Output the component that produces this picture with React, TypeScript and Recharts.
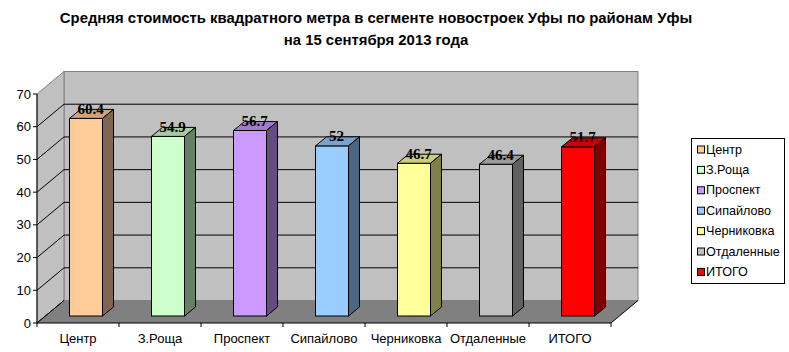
import React from "react";
import { BarChart, Bar, XAxis, YAxis } from "recharts";

// ==================== DATA ====================

const districts = [
  "Центр",
  "З.Роща",
  "Проспект",
  "Сипайлово",
  "Черниковка",
  "Отдаленные",
  "ИТОГО",
];
const pricePerMeter = [60.4, 54.9, 56.7, 52, 46.7, 46.4, 51.7];
const yTicks = [0, 10, 20, 30, 40, 50, 60, 70];
const titleLines = [
  "Средняя стоимость квадратного метра в сегменте новостроек Уфы по районам Уфы",
  "на 15 сентября 2013 года",
];

// front / top / side colours of the 3D bars
const frontColors = ["#FFCC99", "#CCFFCC", "#CC99FF", "#99CCFF", "#FFFF99", "#C0C0C0", "#FF0000"];
const topColors = ["#CCA37A", "#A3CCA3", "#A37ACC", "#7AA3CC", "#CCCC7A", "#9A9A9A", "#CC0000"];
const sideColors = ["#806650", "#668066", "#664D80", "#4D6680", "#80804D", "#606060", "#800000"];

const chartData = districts.map((name, i) => ({ name, value: pricePerMeter[i] }));

// ==================== LAYOUT ====================

const W = 789;
const H = 352;
const PLOT_LEFT = 37;
const PLOT_TOP = 94;
const PLOT_RIGHT = 611;
const PLOT_BOTTOM = 323;
const Y_MAX = 70;
// perspective offset of the back wall
const DEPTH_X = 27;
const DEPTH_Y = -22.5;
// bars stand a bit behind the front plane
const BAR_DX = 7.5;
const BAR_DY = -7;
const BAR_DEPTH_X = 11;
const BAR_DEPTH_Y = -9;
const BAND = (PLOT_RIGHT - PLOT_LEFT) / districts.length;
const FONT = "Arial, 'Liberation Sans', sans-serif";

const yFront = (v: number) =>
  PLOT_BOTTOM - (v / Y_MAX) * (PLOT_BOTTOM - PLOT_TOP);

const pts = (arr: number[][]) => arr.map((p) => p.join(",")).join(" ");

// ==================== WALLS, TITLE, LEGEND ====================

const Backdrop = () => {
  const bl = PLOT_LEFT + DEPTH_X;
  const br = PLOT_RIGHT + DEPTH_X;
  const bTop = PLOT_TOP + DEPTH_Y;
  const bBottom = PLOT_BOTTOM + DEPTH_Y;
  return (
    <svg width={W} height={H} style={{ position: "absolute", left: 0, top: 0 }}>
      {/* title */}
      {titleLines.map((line, i) => (
        <text
          key={i}
          x={376}
          y={23 + i * 22}
          textAnchor="middle"
          fontFamily={FONT}
          fontWeight="bold"
          fontSize={14.9}
        >
          {line}
        </text>
      ))}

      {/* back wall */}
      <rect
        x={bl}
        y={bTop}
        width={br - bl}
        height={bBottom - bTop}
        fill="#C0C0C0"
        stroke="#808080"
      />
      {/* side wall */}
      <polygon
        points={pts([
          [PLOT_LEFT, PLOT_TOP],
          [bl, bTop],
          [bl, bBottom],
          [PLOT_LEFT, PLOT_BOTTOM],
        ])}
        fill="#C0C0C0"
        stroke="#808080"
      />
      {/* grid lines on side and back walls */}
      {yTicks
        .filter((v) => v < Y_MAX)
        .map((v) => {
          const yf = yFront(v);
          const yb = yf + DEPTH_Y;
          return (
            <g key={v} stroke="#000" strokeWidth={1}>
              <line x1={PLOT_LEFT} y1={yf} x2={bl} y2={yb} />
              {v > 0 && <line x1={bl} y1={yb} x2={br} y2={yb} />}
            </g>
          );
        })}
      {/* floor */}
      <polygon
        points={pts([
          [PLOT_LEFT, PLOT_BOTTOM],
          [PLOT_RIGHT, PLOT_BOTTOM],
          [br, bBottom],
          [bl, bBottom],
        ])}
        fill="#808080"
      />
      <line x1={PLOT_RIGHT} y1={PLOT_BOTTOM} x2={br} y2={bBottom} stroke="#000" />
      <line x1={PLOT_LEFT} y1={PLOT_BOTTOM} x2={bl} y2={bBottom} stroke="#000" />

      {/* legend */}
      <rect x={691.5} y={138.5} width={93} height={145} fill="#fff" stroke="#000" />
      {districts.map((name, i) => {
        const cy = 149.5 + i * 20.4;
        return (
          <g key={name}>
            <rect
              x={697.5}
              y={cy - 3.5}
              width={7}
              height={7}
              fill={frontColors[i]}
              stroke="#000"
            />
            <text
              x={706}
              y={cy}
              dominantBaseline="central"
              fontFamily={FONT}
              fontSize={12.6}
            >
              {name}
            </text>
          </g>
        );
      })}
    </svg>
  );
};

// ==================== 3D BAR ====================

const Bar3D = (props: any) => {
  const { x, y, width, height, index, value } = props;
  const x0 = x + BAR_DX;
  const x1 = x0 + width;
  const yTop = y + BAR_DY;
  const yBot = y + height + BAR_DY;
  const label = Array.isArray(value) ? value[1] : value;
  return (
    <g stroke="#000" strokeWidth={1}>
      <rect x={x0} y={yTop} width={width} height={yBot - yTop} fill={frontColors[index]} />
      <polygon
        points={pts([
          [x0, yTop],
          [x0 + BAR_DEPTH_X, yTop + BAR_DEPTH_Y],
          [x1 + BAR_DEPTH_X, yTop + BAR_DEPTH_Y],
          [x1, yTop],
        ])}
        fill={topColors[index]}
      />
      <polygon
        points={pts([
          [x1, yTop],
          [x1 + BAR_DEPTH_X, yTop + BAR_DEPTH_Y],
          [x1 + BAR_DEPTH_X, yBot + BAR_DEPTH_Y],
          [x1, yBot],
        ])}
        fill={sideColors[index]}
      />
      <text
        x={x0 + width / 2 + BAR_DEPTH_X / 2 - 1}
        y={yTop - 4.5}
        textAnchor="middle"
        stroke="none"
        fill="#000"
        fontFamily="'Times New Roman', 'Liberation Serif', serif"
        fontWeight="bold"
        fontSize={15}
      >
        {label}
      </text>
    </g>
  );
};

// ==================== X AXIS TICK ====================

const CategoryTick = (props: any) => {
  const { x, y, payload, index } = props;
  return (
    <g>
      {index === 0 && (
        <line x1={x - BAND / 2} y1={y} x2={x - BAND / 2} y2={y + 4} stroke="#000" />
      )}
      <line x1={x + BAND / 2} y1={y} x2={x + BAND / 2} y2={y + 4} stroke="#000" />
      <text
        x={x}
        y={y + 20}
        textAnchor="middle"
        fontFamily={FONT}
        fontSize={13}
        fill="#000"
      >
        {payload.value}
      </text>
    </g>
  );
};

// ==================== APP ====================

export default function App() {
  return (
    <div style={{ position: "absolute", left: 0, top: 0, width: W, height: H, background: "#fff" }}>
      <Backdrop />
      <div style={{ position: "absolute", left: 0, top: 0 }}>
        <BarChart
          width={W}
          height={H}
          data={chartData}
          margin={{ top: PLOT_TOP, right: W - PLOT_RIGHT, bottom: 0, left: 0 }}
        >
          <XAxis
            dataKey="name"
            height={H - PLOT_BOTTOM}
            axisLine={{ stroke: "#000" }}
            tickLine={false}
            tickSize={0}
            tickMargin={0}
            interval={0}
            tick={<CategoryTick />}
          />
          <YAxis
            width={PLOT_LEFT}
            domain={[0, Y_MAX]}
            ticks={yTicks}
            interval={0}
            axisLine={{ stroke: "#000" }}
            tickLine={{ stroke: "#000" }}
            tickSize={4}
            tick={{ fill: "#000", fontSize: 13, fontFamily: FONT }}
          />
          <Bar
            dataKey="value"
            barSize={33}
            isAnimationActive={false}
            shape={<Bar3D />}
          />
        </BarChart>
      </div>
    </div>
  );
}
